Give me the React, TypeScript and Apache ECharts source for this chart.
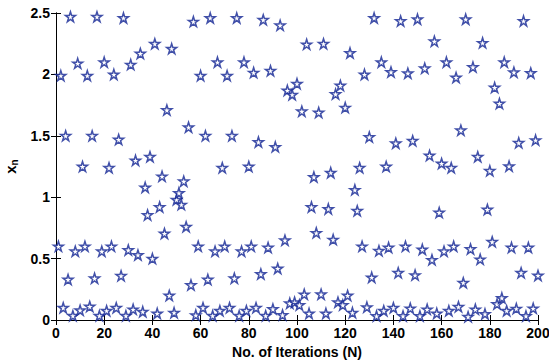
import React, { useEffect, useRef } from "react";
import * as echarts from "echarts";

// Iterate values x_n for n = 1..200
const xValues: number[] = [
  0.6, 1.99, 0.1, 1.5, 0.33, 2.47, 0.035, 0.56, 2.09, 0.08,
  1.25, 0.6, 1.99, 0.11, 1.5, 0.34, 2.47, 0.035, 0.56, 2.1,
  0.076, 1.24, 0.6, 2.0, 0.1, 1.47, 0.36, 2.46, 0.035, 0.57,
  2.08, 0.087, 1.3, 0.53, 2.17, 0.068, 1.08, 0.855, 1.33, 0.5,
  2.25, 0.054, 0.92, 1.17, 0.705, 1.71, 0.2, 2.21, 0.06, 0.98,
  1.035, 0.94, 1.13, 0.76, 1.57, 0.285, 2.43, 0.04, 0.6, 1.99,
  0.1, 1.5, 0.33, 2.46, 0.035, 0.56, 2.1, 0.076, 1.24, 0.6,
  1.99, 0.1, 1.5, 0.34, 2.46, 0.035, 0.56, 2.1, 0.076, 1.25,
  0.6, 2.015, 0.1, 1.45, 0.375, 2.445, 0.035, 0.59, 2.03, 0.09,
  1.41, 0.42, 2.4, 0.041, 0.65, 1.87, 0.136, 1.835, 0.145, 1.925,
  0.122, 1.7, 0.209, 2.245, 0.054, 0.92, 1.165, 0.71, 1.69, 0.21,
  2.25, 0.054, 0.905, 1.2, 0.655, 1.84, 0.145, 1.91, 0.122, 1.73,
  0.2, 2.175, 0.06, 1.06, 0.89, 1.24, 0.6, 2.0, 0.105, 1.49,
  0.347, 2.46, 0.033, 0.564, 2.1, 0.076, 1.25, 0.59, 2.02, 0.1,
  1.44, 0.385, 2.435, 0.033, 0.6, 2.01, 0.095, 1.46, 0.366, 2.45,
  0.033, 0.575, 2.05, 0.087, 1.34, 0.49, 2.27, 0.054, 0.875, 1.275,
  0.56, 2.1, 0.076, 1.24, 0.6, 1.975, 0.108, 1.545, 0.304, 2.45,
  0.027, 0.578, 2.06, 0.087, 1.33, 0.494, 2.257, 0.05, 0.9, 1.215,
  0.637, 1.893, 0.13, 1.763, 0.18, 2.1, 0.076, 1.253, 0.59, 2.018,
  0.093, 1.443, 0.385, 2.436, 0.033, 0.59, 2.012, 0.095, 1.465, 0.363,
];

const xTicks = { min: 0, max: 200, interval: 20 };
const yTicks = { min: 0, max: 2.5, interval: 0.5 };

const STAR =
  "path://M50 0 L61.23 34.55 L97.55 34.55 L68.17 55.9 L79.39 90.45 L50 69.1 L20.61 90.45 L31.83 55.9 L2.45 34.55 L38.77 34.55 Z";

const FONT = "'Liberation Sans', Arial, Helvetica, sans-serif";
const MARK = "#122494";

export default function App() {
  const ref = useRef<HTMLDivElement>(null);

  useEffect(() => {
    if (!ref.current) return;
    const chart = echarts.init(ref.current, undefined, { renderer: "svg" });
    const points = xValues.map((v, i) => [i + 1, v]);

    const axisLine = { show: true, lineStyle: { color: "#000", width: 1 } };
    const tick = { show: true, inside: true, length: 5, lineStyle: { color: "#000" } };
    const label = {
      color: "#000",
      fontFamily: FONT,
      fontWeight: "bold" as const,
      fontSize: 14,
    };

    chart.setOption({
      animation: false,
      backgroundColor: "#fff",
      grid: {
        left: 56,
        right: 11,
        top: 13,
        bottom: 44,
        containLabel: false,
        outerBoundsMode: "none",
      },
      xAxis: [
        {
          type: "value",
          ...xTicks,
          position: "bottom",
          axisLine,
          axisTick: tick,
          splitLine: { show: false },
          axisLabel: { ...label, margin: 6 },
          name: "No. of Iterations (N)",
          nameLocation: "middle",
          nameGap: 24,
          nameTextStyle: { ...label, fontSize: 14 },
        },
        {
          type: "value",
          ...xTicks,
          position: "top",
          axisLine,
          axisTick: tick,
          splitLine: { show: false },
          axisLabel: { show: false },
        },
      ],
      yAxis: [
        {
          type: "value",
          ...yTicks,
          position: "left",
          axisLine,
          axisTick: tick,
          splitLine: { show: false },
          axisLabel: { ...label, margin: 6 },
          name: "{x|x}{n|n}",
          nameLocation: "middle",
          nameRotate: 90,
          nameGap: 36,
          nameTextStyle: {
            rich: {
              x: { fontFamily: FONT, fontWeight: "bold", fontSize: 15, color: "#000" },
              n: {
                fontFamily: FONT,
                fontWeight: "bold",
                fontSize: 10,
                color: "#000",
                padding: [9, 0, 0, 0],
              },
            },
          },
        },
        {
          type: "value",
          ...yTicks,
          position: "right",
          axisLine,
          axisTick: tick,
          splitLine: { show: false },
          axisLabel: { show: false },
        },
      ],
      series: [
        {
          type: "scatter",
          xAxisIndex: 0,
          yAxisIndex: 0,
          data: points,
          symbol: STAR,
          symbolSize: 10,
          itemStyle: {
            color: "#ffffff",
            borderColor: MARK,
            borderWidth: 1.5,
          },
        },
      ],
    });

    return () => chart.dispose();
  }, []);

  return (
    <div
      ref={ref}
      style={{ position: "fixed", left: 0, top: 0, width: 549, height: 364, background: "#fff" }}
    />
  );
}
